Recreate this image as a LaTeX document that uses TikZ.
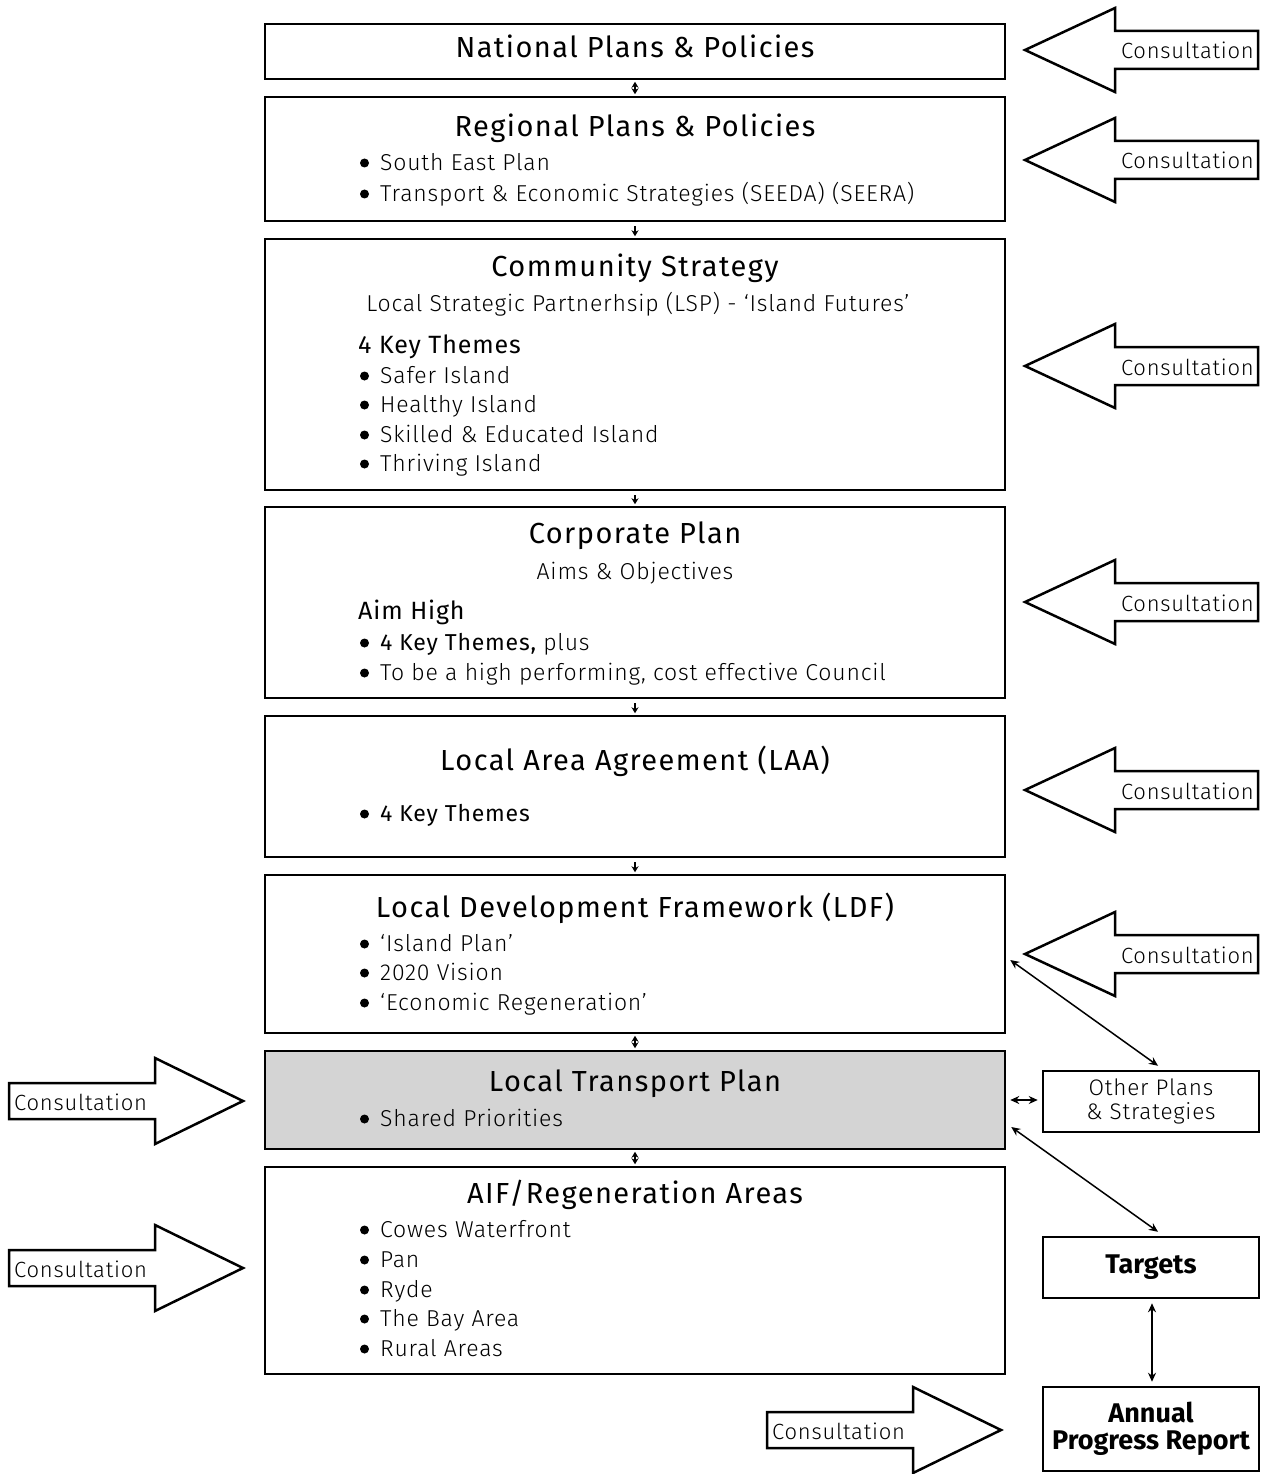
\documentclass[tikz,border=0pt]{standalone}
\usepackage{fontspec}
\setmainfont{Fira Sans}
\newfontfamily\lightf[LetterSpace=3.5]{Fira Sans Light}
\newfontfamily\regf[LetterSpace=3.5]{Fira Sans}
\newfontfamily\titlef[LetterSpace=5]{Fira Sans}
\usetikzlibrary{arrows.meta}
\definecolor{ltpgrey}{RGB}{212,212,212}
\tikzset{
  mainbox/.style={draw, line width=2.5pt, minimum width=740pt, inner sep=0pt},
  sidebox/.style={draw, line width=2.5pt, minimum width=216pt, inner sep=0pt, align=center, font=\lightf\fontsize{22.5}{24}\selectfont},
  titletext/.style={font=\titlef\fontsize{29}{32}\selectfont, inner sep=0pt, anchor=base},
  bodytext/.style={font=\lightf\fontsize{23}{26}\selectfont, inner sep=0pt, anchor=base west},
  subtext/.style={font=\lightf\fontsize{23}{26}\selectfont, inner sep=0pt, anchor=base},
  medtext/.style={font=\regf\fontsize{25}{28}\selectfont, inner sep=0pt, anchor=base west},
  consult/.style={draw, line width=2.5pt, fill=white, line join=miter},
  consulttext/.style={font=\lightf\fontsize{22}{24}\selectfont, inner sep=0pt},
  smallarr/.style={line width=1.5pt, -{Stealth[length=6pt,width=7pt]}},
  smalldbl/.style={line width=1.5pt, {Stealth[length=6pt,width=7pt]}-{Stealth[length=6pt,width=7pt]}},
  thinarr/.style={line width=1.5pt, {Stealth[length=9pt,width=8pt]}-{Stealth[length=9pt,width=8pt]}}
}
\newcommand\medbit[1]{{\regf\fontsize{23}{26}\selectfont #1}}
\newcommand\bitem[3]{%
  \fill (364.5,{#2+1}) circle (4.5pt);
  \node[bodytext] (#1) at (380,{#2+8.5}) {#3};}
\newcommand\consultL[2]{%
  \draw[consult] (1025,#1) -- (1115,{#1-42}) -- (1115,{#1-19}) -- (1258,{#1-19}) -- (1258,{#1+19}) -- (1115,{#1+19}) -- (1115,{#1+42}) -- cycle;
  \node[consulttext, anchor=base east] (#2) at (1254,{#1+9}) {Consultation};}
\newcommand\consultR[3]{%
  \draw[consult] (#1,{#2-18}) -- ({#1+146},{#2-18}) -- ({#1+146},{#2-43}) -- ({#1+234},#2) -- ({#1+146},{#2+43}) -- ({#1+146},{#2+18}) -- (#1,{#2+18}) -- cycle;
  \node[consulttext, anchor=base west] (#3) at ({#1+5},{#2+9}) {Consultation};}
\begin{document}
\begin{tikzpicture}[x=1pt,y=-1pt]
\useasboundingbox (0,0) rectangle (1261,1474);

% main boxes
\node[mainbox, minimum height=55pt] (b1) at (635,51.5) {};
\node[mainbox, minimum height=124pt] (b2) at (635,159) {};
\node[mainbox, minimum height=251pt] (b3) at (635,364.5) {};
\node[mainbox, minimum height=191pt] (b4) at (635,602.5) {};
\node[mainbox, minimum height=141pt] (b5) at (635,786.5) {};
\node[mainbox, minimum height=158pt] (b6) at (635,954) {};
\node[mainbox, minimum height=98pt, fill=ltpgrey] (b7) at (635,1100) {};
\node[mainbox, minimum height=207pt] (b8) at (635,1270.5) {};

% box 1
\node[titletext] (t1) at (635,58) {National Plans \& Policies};
% box 2
\node[titletext] (t2) at (635,137) {Regional Plans \& Policies};
\bitem{b2a}{162}{South East Plan}
\bitem{b2b}{193}{Transport \& Economic Strategies (SEEDA) (SEERA)}
% box 3
\node[titletext] (t3) at (635,276) {Community Strategy};
\node[subtext] (s3) at (638,311.5) {Local Strategic Partnerhsip (LSP) - ‘Island Futures’};
\node[medtext] (k3) at (358,353.5) {4 Key Themes};
\bitem{b3a}{375}{Safer Island}
\bitem{b3b}{404}{Healthy Island}
\bitem{b3c}{434}{Skilled \& Educated Island}
\bitem{b3d}{463}{Thriving Island}
% box 4
\node[titletext] (t4) at (635,543) {Corporate Plan};
\node[subtext] (s4) at (635,579.5) {Aims \& Objectives};
\node[medtext] (k4) at (358,619.5) {Aim High};
\bitem{b4a}{642}{\medbit{4 Key Themes,} plus}
\bitem{b4b}{672}{To be a high performing, cost effective Council}
% box 5
\node[titletext] (t5) at (635,770) {Local Area Agreement (LAA)};
\bitem{b5a}{813}{\medbit{4 Key Themes}}
% box 6
\node[titletext] (t6) at (635,917) {Local Development Framework (LDF)};
\bitem{b6a}{943}{‘Island Plan’}
\bitem{b6b}{972}{2020 Vision}
\bitem{b6c}{1002}{‘Economic Regeneration’}
% box 7
\node[titletext] (t7) at (635,1091) {Local Transport Plan};
\bitem{b7a}{1118}{Shared Priorities}
% box 8
\node[titletext] (t8) at (635,1203) {AIF/Regeneration Areas};
\bitem{b8a}{1229}{Cowes Waterfront}
\bitem{b8b}{1259}{Pan}
\bitem{b8c}{1289}{Ryde}
\bitem{b8d}{1318}{The Bay Area}
\bitem{b8e}{1348}{Rural Areas}

% side boxes
\node[sidebox, minimum height=61pt] (other) at (1151,1101.5) {Other Plans\\\& Strategies};
\node[sidebox, minimum height=61pt, font=\bfseries\fontsize{27}{28}\selectfont] (targets) at (1151,1267.5) {Targets};
\node[sidebox, minimum height=84pt, font=\bfseries\fontsize{27}{27}\selectfont] (annual) at (1151,1429) {Annual\\Progress Report};

% connectors between main boxes
\draw[smalldbl, shorten <=1.5pt, shorten >=1.5pt] (b1.south) -- (b2.north);
\draw[smallarr, shorten >=1.5pt, shorten <=4pt] (b2.south) -- (b3.north);
\draw[smallarr, shorten >=1.5pt, shorten <=4pt] (b3.south) -- (b4.north);
\draw[smallarr, shorten >=1.5pt, shorten <=4pt] (b4.south) -- (b5.north);
\draw[smallarr, shorten >=1.5pt, shorten <=4pt] (b5.south) -- (b6.north);
\draw[smalldbl, shorten <=1.5pt, shorten >=1.5pt] (b6.south) -- (b7.north);
\draw[smalldbl, shorten <=1.5pt, shorten >=1.5pt] (b7.south) -- (b8.north);

% side connectors
\draw[thinarr] ([xshift=4pt,yshift=-6pt]b6.east) -- ([xshift=7pt,yshift=4pt]other.north);
\draw[thinarr] ([xshift=4pt]b7.east) -- ([xshift=-4pt]b7.east -| other.west);
\draw[thinarr] ([xshift=5pt,yshift=-27pt]b7.east) -- ([xshift=7pt,yshift=4pt]targets.north);
\draw[thinarr] ([xshift=1pt,yshift=-4pt]targets.south) -- ([xshift=1pt,yshift=4pt]annual.north);

% consultation arrows
\consultL{50}{c1}
\consultL{160}{c2}
\consultL{366}{c3}
\consultL{602}{c4}
\consultL{790}{c5}
\consultL{954}{c6}
\consultR{9}{1101}{c7}
\consultR{9}{1268}{c8}
\consultR{767}{1430}{c9}
\end{tikzpicture}
\end{document}
